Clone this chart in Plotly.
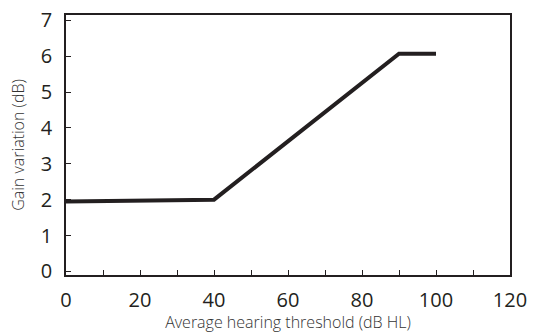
import plotly.graph_objects as go

# Gain variation as a function of average hearing threshold
threshold_db_hl = [0, 40, 90, 100]
gain_variation_db = [1.95, 2.0, 6.07, 6.07]

x_tick_vals = list(range(0, 121, 10))
x_tick_text = [str(v) if v % 20 == 0 else "" for v in x_tick_vals]
y_tick_vals = list(range(1, 7))
y_tick_text = [str(v) for v in y_tick_vals]

fig = go.Figure()
fig.add_trace(go.Scatter(
    x=threshold_db_hl,
    y=gain_variation_db,
    mode="lines",
    line=dict(color="#231f20", width=4),
    showlegend=False,
))

axis_common = dict(
    showline=True,
    linecolor="#231f20",
    linewidth=1.5,
    mirror=True,
    showgrid=False,
    zeroline=False,
    automargin=False,
    ticks="inside",
    ticklen=5,
    tickwidth=1.2,
    tickcolor="#231f20",
    tickfont=dict(family="Open Sans", size=20, color="#231f20", weight=400),
)

title_font = dict(family="Open Sans", size=16, color="#333333", weight=300)

fig.update_xaxes(
    range=[0, 120],
    tickmode="array",
    tickvals=x_tick_vals,
    ticktext=x_tick_text,
    ticklabelstandoff=6,
    title=dict(text="Average hearing threshold (dB HL)", font=title_font, standoff=8),
    **axis_common,
)
fig.update_yaxes(
    range=[-0.1, 7.15],
    tickmode="array",
    tickvals=[0] + y_tick_vals + [7],
    ticktext=["0"] + y_tick_text + ["7"],
    ticklabelstandoff=8,
    title=dict(text="Gain variation (dB)", font=title_font, standoff=12),
    **axis_common,
)

fig.update_layout(
    width=533,
    height=333,
    margin=dict(l=66, r=23, t=15, b=58),
    paper_bgcolor="white",
    plot_bgcolor="white",
)

fig.write_html("out.html")
